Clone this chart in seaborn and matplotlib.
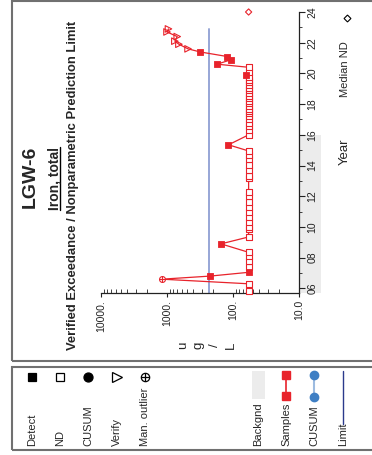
import matplotlib
matplotlib.use("Agg")
import matplotlib.pyplot as plt
import matplotlib.transforms as mtransforms
from matplotlib.lines import Line2D
from matplotlib.patches import Rectangle
from matplotlib.ticker import FixedLocator, LogLocator, NullFormatter
import pandas as pd
import seaborn as sns

# sampling dates (2-digit decimal years) and iron results in ug/L
sample_years = [5.85, 6.3, 6.6, 6.8, 7.05, 7.4, 7.8, 8.1, 8.35, 8.9,
                9.35, 9.9, 10.0, 10.3, 10.65, 11.0, 11.3, 11.6, 12.0, 12.3,
                13.2, 13.35, 13.7, 14.05, 14.4, 14.7, 14.95, 15.35, 16.0, 16.3,
                16.55, 16.8, 17.0, 17.2, 17.4, 17.55, 17.7, 17.9, 18.05, 18.2,
                18.4, 18.55, 18.7, 18.9, 19.05, 19.25, 19.45, 19.6, 19.75, 19.87,
                20.1, 20.4, 20.6, 20.9, 21.1, 21.4, 21.6, 21.9, 22.1, 22.4,
                22.7, 22.9]
sample_values = [58, 58, 1200, 224, 57, 58, 58, 58, 58, 152,
                 58, 58, 58, 58, 58, 58, 58, 58, 58, 58,
                 58, 58, 58, 58, 58, 58, 58, 117, 58, 58,
                 58, 58, 58, 58, 58, 58, 58, 58, 58, 58,
                 58, 58, 58, 58, 58, 58, 58, 58, 58, 64,
                 58, 58, 174, 106, 122, 316, 480, 660, 760, 700,
                 1000, 950]
sample_kinds = ["ND", "ND", "outlier", "detect", "detect", "ND", "ND", "ND", "ND", "detect",
                "ND", "ND", "ND", "ND", "ND", "ND", "ND", "ND", "ND", "ND",
                "ND", "ND", "ND", "ND", "ND", "ND", "ND", "detect", "ND", "ND",
                "ND", "ND", "ND", "ND", "ND", "ND", "ND", "ND", "ND", "ND",
                "ND", "ND", "ND", "ND", "ND", "ND", "ND", "ND", "ND", "detect",
                "ND", "ND", "detect", "detect", "detect", "detect", "verify", "verify", "verify", "verify",
                "verify", "verify"]

median_nd_year = [24.0]
median_nd_value = [58]

limit_value = 231
limit_years = [5.6, 22.9]
backgnd_end = 16.0

year_ticks = [6, 8, 10, 12, 14, 16, 18, 20, 22, 24]
year_labels = ["06", "08", "10", "12", "14", "16", "18", "20", "22", "24"]
conc_ticks = [10, 100, 1000, 10000]
conc_labels = ["10.0", "100.", "1000.", "10000."]

legend_marks = ["Detect", "ND", "CUSUM", "Verify", "Man. outlier"]
legend_lines = ["Backgnd", "Samples", "CUSUM", "Limit"]

RED = "#e8232b"

df = pd.DataFrame({"year": sample_years, "value": sample_values, "kind": sample_kinds})

sns.set_style("ticks")
plt.rcParams["font.family"] = ["Liberation Sans", "DejaVu Sans"]

W, H = 372, 455
fig = plt.figure(figsize=(W / 100, H / 100), dpi=100)


def fx(x):
    return x / W


def fy(y):
    return 1 - y / H


ax = fig.add_axes([fx(101), fy(293), 198 / W, 281 / H])
ax.patch.set_alpha(0)

# connecting line through all samples in time order
sns.lineplot(data=df, x="value", y="year", orient="y", sort=False, estimator=None,
             color=RED, lw=0.9, ax=ax, zorder=3)

nd = df[df.kind == "ND"]
sns.scatterplot(data=nd, x="value", y="year", marker="s", s=15, facecolors="white",
                edgecolor=RED, linewidth=0.8, ax=ax, zorder=4, clip_on=False)
det = df[df.kind == "detect"]
sns.scatterplot(data=det, x="value", y="year", marker="s", s=20, color=RED,
                edgecolor=RED, linewidth=0.6, ax=ax, zorder=5, clip_on=False)
ver = df[df.kind == "verify"]
sns.scatterplot(data=ver, x="value", y="year", marker=">", s=22, facecolors="none",
                edgecolor=RED, linewidth=0.8, ax=ax, zorder=5, clip_on=False)
out = df[df.kind == "outlier"]
sns.scatterplot(data=out, x="value", y="year", marker="o", s=18, facecolors="white",
                edgecolor=RED, linewidth=0.8, ax=ax, zorder=5, clip_on=False)
sns.scatterplot(data=out, x="value", y="year", marker="+", s=18, color=RED,
                linewidth=0.8, ax=ax, zorder=6, clip_on=False)
sns.scatterplot(x=median_nd_value, y=median_nd_year, marker="D", s=10, facecolors="none",
                edgecolor=RED, linewidth=0.8, ax=ax, zorder=5, clip_on=False)

# limit line
sns.lineplot(x=[limit_value, limit_value], y=limit_years, orient="y", sort=False,
             estimator=None, color="#97a6d6", lw=1.4, ax=ax, zorder=2)

ax.set_xscale("log")
ax.set_xlim(10000, 10)
ax.set_ylim(5.7, 24)

# background period band behind year labels
trans = mtransforms.blended_transform_factory(ax.transAxes, ax.transData)
ax.add_patch(Rectangle((1.0, 5.7), 22 / 198, backgnd_end - 5.7, transform=trans,
                       facecolor="#ececec", edgecolor="none", clip_on=False, zorder=0))

ax.xaxis.set_major_locator(FixedLocator(conc_ticks))
ax.set_xticklabels(conc_labels)
ax.xaxis.set_minor_locator(LogLocator(base=10, subs=range(2, 10)))
ax.xaxis.set_minor_formatter(NullFormatter())
ax.set_yticks(year_ticks)
ax.set_yticklabels(year_labels)
ax.set_yticks(range(7, 24, 2), minor=True)
ax.yaxis.tick_right()

ax.tick_params(axis="x", which="major", direction="out", length=3, width=0.8,
               labelsize=7.5, labelrotation=90, pad=2, colors="#222222")
ax.tick_params(axis="x", which="minor", direction="in", length=3, width=0.6, colors="#222222")
ax.tick_params(axis="y", which="major", direction="out", length=4, width=0.8,
               labelsize=7.5, labelrotation=90, pad=2, colors="#222222")
ax.tick_params(axis="y", which="minor", direction="out", length=2.5, width=0.6, colors="#222222")
for lab in ax.get_yticklabels():
    lab.set_va("center")
ax.set_xlabel("")
ax.set_ylabel("")
for side in ["left", "top"]:
    ax.spines[side].set_visible(False)
for side in ["right", "bottom"]:
    ax.spines[side].set_color("#222222")
    ax.spines[side].set_linewidth(0.9)
if ax.get_legend():
    ax.get_legend().remove()

# panel frames
fig.add_artist(Rectangle((fx(12), fy(361)), 1, fy(1) - fy(361), transform=fig.transFigure,
                         facecolor="none", edgecolor="#707070", lw=1.5))
fig.add_artist(Rectangle((fx(12), fy(450)), 1, fy(367) - fy(450), transform=fig.transFigure,
                         facecolor="none", edgecolor="#707070", lw=1.5))

# titles
fig.text(fx(30), fy(177), "LGW-6", rotation=90, ha="center", va="center",
         fontsize=14, fontweight="bold")
iron = fig.text(fx(54), fy(178), "Iron, total", rotation=90, ha="center", va="center",
                fontsize=10, fontweight="bold")
fig.text(fx(73), fy(185), "Verified Exceedance / Nonparametric Prediction Limit",
         rotation=90, ha="center", va="center", fontsize=9.4, fontweight="bold")
fig.text(fx(207), fy(345), "u\ng\n/\nL", rotation=90, ha="center", va="center",
         fontsize=9.5, linespacing=1.45)
fig.text(fx(345), fy(152), "Year", rotation=90, ha="center", va="center", fontsize=9.5)
fig.text(fx(345), fy(69), "Median ND", rotation=90, ha="center", va="center", fontsize=8)
fig.add_artist(Line2D([fx(347)], [fy(18)], transform=fig.transFigure, marker="D", ms=3.5,
                      mfc="white", mec="black", mew=0.8))

# underline for the constituent name
fig.canvas.draw()
bb = iron.get_window_extent().transformed(fig.transFigure.inverted())
fig.add_artist(Line2D([fx(59.5), fx(59.5)], [bb.y0, bb.y1],
                      transform=fig.transFigure, color="black", lw=1.0))

# legend: symbols
sym_x = [32, 60, 88, 117, 145]
for lab, x in zip(legend_marks, sym_x):
    fig.text(fx(x), fy(446), lab, rotation=90, ha="center", va="bottom", fontsize=8)
mk = dict(transform=fig.transFigure, ls="none", mec="black", mew=0.9)
fig.add_artist(Line2D([fx(32)], [fy(377)], marker="s", ms=5.5, mfc="black", **mk))
fig.add_artist(Line2D([fx(60)], [fy(377)], marker="s", ms=5.5, mfc="white", **mk))
fig.add_artist(Line2D([fx(88)], [fy(377)], marker="o", ms=6.5, mfc="black", **mk))
fig.add_artist(Line2D([fx(117)], [fy(377)], marker=">", ms=6.5, mfc="white", **mk))
fig.add_artist(Line2D([fx(145)], [fy(377)], marker="o", ms=6, mfc="white", **mk))
fig.add_artist(Line2D([fx(145)], [fy(377)], marker="+", ms=6, **mk))

# legend: lines
line_x = [258, 286, 314, 343]
for lab, x in zip(legend_lines, line_x):
    fig.text(fx(x), fy(446), lab, rotation=90, ha="center", va="bottom", fontsize=8)
fig.add_artist(Rectangle((fx(252), fy(399)), 13 / W, 28 / H, transform=fig.transFigure,
                         facecolor="#ececec", edgecolor="none"))
fig.add_artist(Line2D([fx(286), fx(286)], [fy(375), fy(396)], transform=fig.transFigure,
                      color=RED, lw=1.2, marker="s", ms=6, mfc=RED, mec=RED))
fig.add_artist(Line2D([fx(314), fx(314)], [fy(375), fy(397)], transform=fig.transFigure,
                      color="#9dbbe0", lw=1.5, marker="o", ms=6, mfc="#3f7fc4", mec="#3f7fc4"))
fig.add_artist(Line2D([fx(343), fx(343)], [fy(371), fy(424)], transform=fig.transFigure,
                      color="#2b3a8c", lw=1.0))

fig.savefig("out.png", dpi=100)
